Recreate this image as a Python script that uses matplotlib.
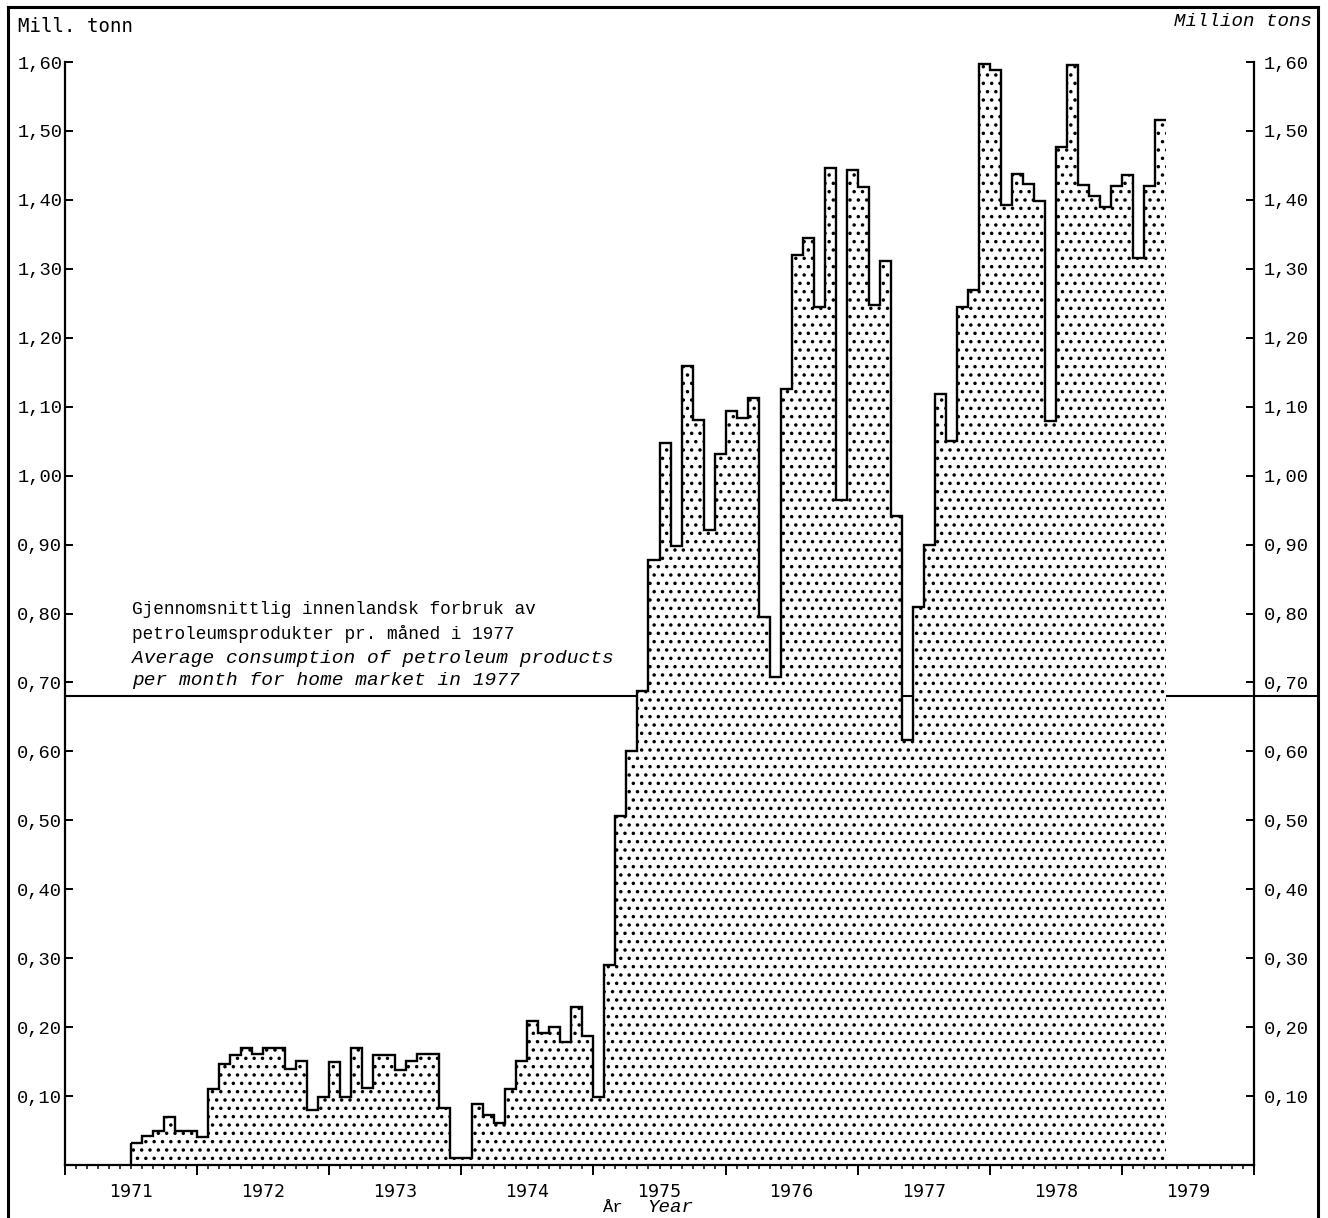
import matplotlib
matplotlib.use("Agg")
import matplotlib.pyplot as plt
import numpy as np
from matplotlib.lines import Line2D
from matplotlib.transforms import blended_transform_factory

# ---------------- data ----------------
# monthly values, million tons, July 1971 .. April 1979
first_month = 6          # months after January 1971 (July 1971)
values = [
    0.032, 0.042, 0.050, 0.070, 0.050, 0.050,                      # 1971 Jul-Dec
    0.040, 0.110, 0.147, 0.159, 0.170, 0.161,
    0.169, 0.169, 0.139, 0.151, 0.080, 0.098,                      # 1972
    0.149, 0.099, 0.170, 0.111, 0.159, 0.159,
    0.138, 0.151, 0.161, 0.161, 0.082, 0.010,                      # 1973
    0.010, 0.089, 0.073, 0.061, 0.110, 0.151,
    0.209, 0.191, 0.200, 0.179, 0.229, 0.187,                      # 1974
    0.099, 0.290, 0.506, 0.601, 0.688, 0.877,
    1.048, 0.898, 1.159, 1.081, 0.921, 1.031,                      # 1975
    1.094, 1.083, 1.113, 0.795, 0.708, 1.126,
    1.320, 1.345, 1.244, 1.446, 0.965, 1.443,                      # 1976
    1.419, 1.247, 1.312, 0.942, 0.617, 0.810,
    0.900, 1.119, 1.050, 1.244, 1.269, 1.597,                      # 1977
    1.588, 1.393, 1.438, 1.423, 1.398, 1.079,
    1.477, 1.596, 1.421, 1.406, 1.390, 1.420,                      # 1978
    1.436, 1.316, 1.420, 1.516,                                    # 1979 Jan-Apr
]
years = [1971, 1972, 1973, 1974, 1975, 1976, 1977, 1978, 1979]
ytick_values = [0.10, 0.20, 0.30, 0.40, 0.50, 0.60, 0.70, 0.80,
                0.90, 1.00, 1.10, 1.20, 1.30, 1.40, 1.50, 1.60]
ytick_labels = ["0,10", "0,20", "0,30", "0,40", "0,50", "0,60", "0,70", "0,80",
                "0,90", "1,00", "1,10", "1,20", "1,30", "1,40", "1,50", "1,60"]
average_1977 = 0.68
note_no = ["Gjennomsnittlig innenlandsk forbruk av",
           "petroleumsprodukter pr. måned i 1977"]
note_en = ["Average consumption of petroleum products",
           "per month for home market in 1977"]

# ---------------- figure ----------------
plt.rcParams["font.family"] = ["Liberation Mono", "DejaVu Sans Mono"]
plt.rcParams["hatch.linewidth"] = 1.3
W, H = 1328, 1218
fig = plt.figure(figsize=(W / 100, H / 100), dpi=100)
ax_l, ax_r, ax_t, ax_b = 65, 1254, 62, 1165
ax = fig.add_axes([ax_l / W, (H - ax_b) / H, (ax_r - ax_l) / W, (ax_b - ax_t) / H])

n_months = 12 * len(years)
ax.set_xlim(0, n_months)
ax.set_ylim(0, 1.6)

edges = np.arange(len(values) + 1) + first_month

# average line (behind the bars), running out to the frame on the right
ax.axhline(average_1977, xmin=0, xmax=(1318 - ax_l) / (ax_r - ax_l),
           color="black", lw=1.5, zorder=1, clip_on=False)

# dotted fill
ax.stairs(values, edges, fill=True, facecolor="white", edgecolor="black",
          hatch="..", linewidth=0, zorder=2)
# outline
ax.stairs(values, edges, baseline=None, color="black", lw=1.7, zorder=3)
ax.vlines(edges[0], 0, values[0], color="black", lw=1.7, zorder=3)

# spines
ax.spines["top"].set_visible(False)
for s in ["left", "right", "bottom"]:
    ax.spines[s].set_linewidth(1.6)

# x ticks: years as boundaries, months as minor ticks
ax.set_xticks(np.arange(0, n_months + 1, 12))
ax.set_xticklabels([])
ax.set_xticks(np.arange(0, n_months + 1, 1), minor=True)
ax.tick_params(axis="x", which="major", direction="out", length=7.5, width=1.4)
ax.tick_params(axis="x", which="minor", direction="out", length=3, width=1.1)

trans = blended_transform_factory(ax.transData, ax.transAxes)
for i, yr in enumerate(years):
    ax.text(12 * i + 6, -0.0245, str(yr), transform=trans, ha="center", va="center",
            fontsize=12.5, family="DejaVu Sans")

# y ticks left
ax.set_yticks(ytick_values)
ax.set_yticklabels(ytick_labels)
ax.tick_params(axis="y", direction="in", length=6, width=1.4, labelsize=13.5,
               pad=2, left=True, right=False)

# y ticks right
ax2 = ax.twinx()
ax2.set_ylim(0, 1.6)
ax2.set_yticks(ytick_values)
ax2.set_yticklabels(ytick_labels)
ax2.tick_params(axis="y", direction="in", length=6, width=1.4, labelsize=13.5, pad=7)
for s in ax2.spines.values():
    s.set_visible(False)

# annotation
x_note = 6.1
for txt, yv in zip(note_no, [0.806, 0.770]):
    ax.text(x_note, yv, txt, ha="left", va="center", fontsize=12.8, zorder=4)
for txt, yv in zip(note_en, [0.735, 0.703]):
    ax.text(x_note, yv, txt, ha="left", va="center", fontsize=14, style="italic", zorder=4)

# titles / units
fig.text(18 / W, 1 - 27 / H, "Mill. tonn", ha="left", va="center",
         fontsize=13.7, family="DejaVu Sans Mono")
fig.text(1312 / W, 1 - 22 / H, "Million tons", ha="right", va="center",
         fontsize=13.8, style="italic")
fig.text(612 / W, 1 - 1208 / H, "År", ha="center", va="center", fontsize=12.5)
fig.text(670 / W, 1 - 1208 / H, "Year", ha="center", va="center", fontsize=13.8,
         style="italic")

# frame around the whole figure
lw_frame = 2.2
fig.add_artist(Line2D([8 / W, 8 / W], [0, 1 - 7 / H], color="black", lw=lw_frame,
                      transform=fig.transFigure))
fig.add_artist(Line2D([8 / W, 1318 / W], [1 - 7 / H, 1 - 7 / H], color="black",
                      lw=lw_frame, transform=fig.transFigure))
fig.add_artist(Line2D([1318 / W, 1318 / W], [0, 1 - 7 / H], color="black", lw=lw_frame,
                      transform=fig.transFigure))

fig.savefig("out.png", dpi=100)
